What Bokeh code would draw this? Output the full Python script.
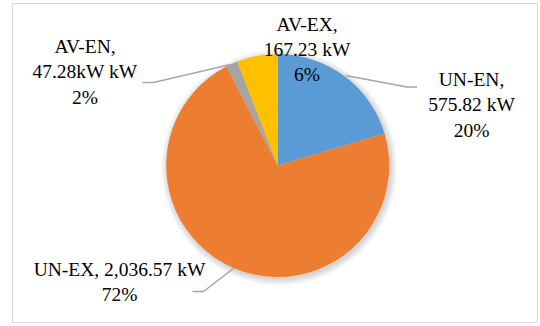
import numpy as np
from bokeh.plotting import figure
from bokeh.models import Range1d, ColumnDataSource
from bokeh.core.properties import value
from bokeh.embed import file_html
from bokeh.resources import INLINE

# Power split by category (kW)
categories = ["UN-EN", "UN-EX", "AV-EN", "AV-EX"]
power_kw = [575.82, 2036.57, 47.28, 167.23]
value_texts = ["575.82 kW", "2,036.57 kW", "47.28kW kW", "167.23 kW"]
colors = ["#5B9BD5", "#ED7D31", "#A5A5A5", "#FFC000"]

W, H = 540, 326
# plot coordinates: x to the right, y measured upward from the page bottom
p = figure(width=W, height=H, output_backend="svg", toolbar_location=None,
           x_range=Range1d(12, 537), y_range=Range1d(4, 323),
           min_border_left=12, min_border_right=3, min_border_top=3,
           min_border_bottom=4)
p.axis.visible = False
p.grid.visible = False
p.outline_line_color = "#D9D9D9"
p.outline_line_width = 1
p.background_fill_color = "white"
p.border_fill_color = "white"

cx, cy, r = 277.2, H - 165.0, 111.5

vals = np.array(power_kw)
frac = vals / vals.sum()
cum = np.concatenate([[0.0], np.cumsum(frac)])
start = np.pi / 2 - cum[:-1] * 2 * np.pi
end = np.pi / 2 - cum[1:] * 2 * np.pi
pct = [f"{round(f * 100):d}%" for f in frac]

# soft drop shadow behind the pie
for k in range(7):
    p.circle(x=cx + 1.5, y=cy - 2.0, radius=r + 0.5 + k, fill_color="black",
             fill_alpha=0.022, line_color=None)

src = ColumnDataSource(dict(start=start, end=end, color=colors, cat=categories))
p.wedge(x=cx, y=cy, radius=r, start_angle="start", end_angle="end",
        direction="clock", fill_color="color", line_color=None, source=src)

# leader lines
leaders = {
    "AV-EN": ([142, 153, 230], [82, 82, 64]),
    "UN-EN": ([345, 406.5, 416.5], [75, 86.5, 86.5]),
    "UN-EX": ([233, 203, 192], [268, 291, 291]),
}
for name, (xs, ys) in leaders.items():
    p.line(x=xs, y=[H - v for v in ys], line_color="#A6A6A6", line_width=1.5)

# data labels
label_pos = {
    "UN-EN": (471, 104.5),
    "UN-EX": (119, 281.7),
    "AV-EN": (84.5, 71.4),
    "AV-EX": (306.5, 49.0),
}
lx, ly, lt = [], [], []
for cat, vt, pc in zip(categories, value_texts, pct):
    if cat == "UN-EX":
        txt = f"{cat}, {vt}\n{pc}"
    else:
        txt = f"{cat},\n{vt}\n{pc}"
    x0, y0 = label_pos[cat]
    lx.append(x0)
    ly.append(H - y0)
    lt.append(txt)

p.text(x=lx, y=ly, text=lt, text_font=value("Times New Roman"),
       text_font_size="19.5px", text_color="#000000", text_align="center",
       text_baseline="middle", text_line_height=1.2)

open("out.html", "w").write(file_html(p, INLINE))
